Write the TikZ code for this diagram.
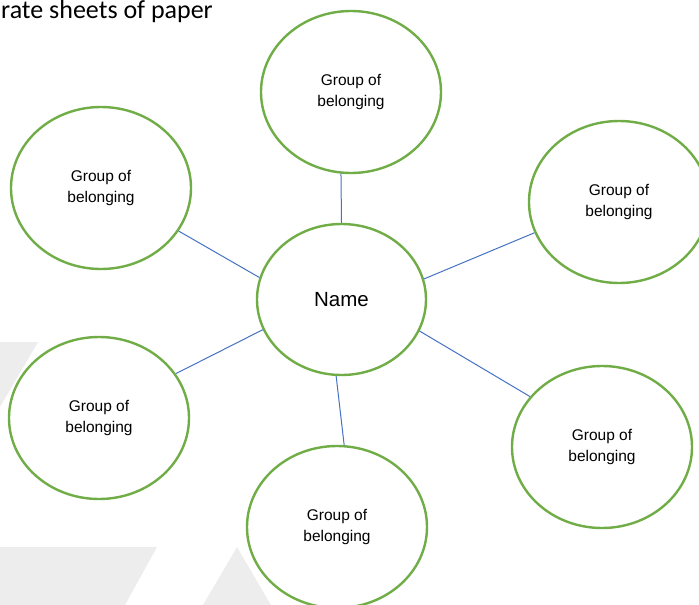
\documentclass[tikz,border=0pt]{standalone}
\usepackage{fontspec}
\setmainfont{Liberation Sans}
\newfontfamily\calibrifont{Carlito}
\usetikzlibrary{shapes.geometric}
\definecolor{ringgreen}{HTML}{70AD47}
\definecolor{linkblue}{HTML}{4472C4}
\definecolor{wmgrey}{HTML}{EDEDED}
\tikzset{
  group/.style={ellipse, draw=ringgreen, line width=2.4pt, fill=white,
    minimum width=180pt, minimum height=162pt, inner sep=0pt, align=center,
    font=\fontsize{15.5}{21}\selectfont},
  centre/.style={group, minimum width=169pt, minimum height=151pt,
    font=\fontsize{20.5}{24}\selectfont},
  link/.style={draw=linkblue, line width=1pt},
  wm/.style={fill=wmgrey, draw=none}
}
\begin{document}
\begin{tikzpicture}[x=1pt,y=-1pt]
\useasboundingbox (0,0) rectangle (699,605);
% watermark shapes
\fill[wm] (0,342) -- (38,342) -- (0,407) -- cycle;
\fill[wm] (0,547) -- (157,547) -- (125,605) -- (0,605) -- cycle;
\fill[wm] (237,547) -- (203,605) -- (271,605) -- cycle;
% header text
\node[anchor=base west, inner sep=0pt, font=\calibrifont\fontsize{26}{30}\selectfont] (hdr) at (1,19) {rate sheets of paper};
% nodes
\node[centre] (name) at (341.5,299.5) {Name};
\node[group] (top) at (351,92) {Group of\\belonging};
\node[group] (ul) at (101,188) {Group of\\belonging};
\node[group] (ll) at (99,418) {Group of\\belonging};
\node[group] (bot) at (337,527) {Group of\\belonging};
\node[group] (ur) at (619,202) {Group of\\belonging};
\node[group] (lr) at (602,447) {Group of\\belonging};
% connectors
\draw[link] (name.90) -- (top.263);
\draw[link] (name.165) -- (ul.-29);
\draw[link] (name.201.5) -- (ll.30);
\draw[link] (name.266) -- (bot.85);
\draw[link] (name.14) -- (ur.200);
\draw[link] (name.-22) -- (lr.145);
\end{tikzpicture}
\end{document}
